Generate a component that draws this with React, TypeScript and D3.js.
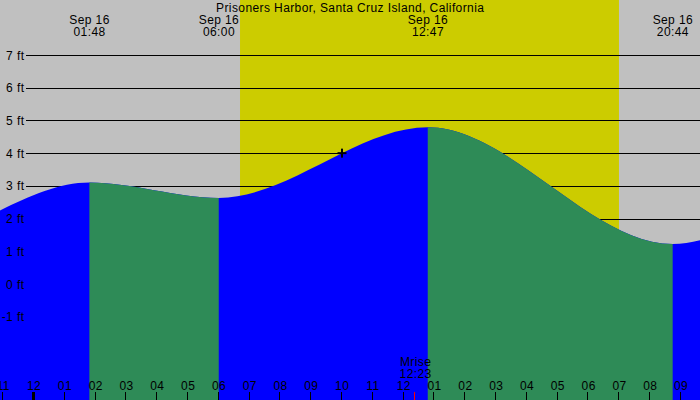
import * as d3 from "d3";

// Tide extremes, hours from Sep 16 00:00 (first and last two are off-screen estimates)
const tideHours = [-10.5, -4.5, 1.8, 6.0, 12.783, 20.733, 27.2, 31.0];
const tideFeet = [4.5, 1.16, 3.1, 2.63, 4.79, 1.22, 3.5, 2.6];
const eventLabels = ["01:48", "06:00", "12:47", "20:44"];
const eventHours = [1.8, 6.0, 12.783, 20.733];

const sunriseHour = 6.69;
const sunsetHour = 18.99;
const moonriseHour = 12.383;
const moonriseLabel = "12:23";
const nowHour = 10.0;
const nowFeet = 4.0;

const feetTicks = [-1, 0, 1, 2, 3, 4, 5, 6, 7];
const hourTickStart = -1;
const hourLabels = ["11", "12", "01", "02", "03", "04", "05", "06", "07", "08", "09", "10",
  "11", "12", "01", "02", "03", "04", "05", "06", "07", "08", "09"];

const title = "Prisoners Harbor, Santa Cruz Island, California";
const dateLabel = "Sep 16";

const W = 700;
const H = 400;
const FONT = "'Liberation Sans', Arial, sans-serif";

const App = () => {
  const x = d3.scaleLinear().domain([0, 21]).range([33.9, 680.9]);
  const y = d3.scaleLinear().domain([0, 7]).range([284, 55]);

  const pts = tideHours.map((h, i) => [h, tideFeet[i]] as [number, number]);
  const area = d3
    .area<[number, number]>()
    .x((d) => x(d[0]))
    .y0(H)
    .y1((d) => y(d[1]))
    .curve(d3.curveMonotoneX);
  const areaPath = area(pts) ?? "";

  // falling tide = from a high to the following low
  const falling: [number, number][] = [];
  for (let i = 0; i < tideHours.length - 1; i++) {
    if (tideFeet[i + 1] < tideFeet[i]) falling.push([tideHours[i], tideHours[i + 1]]);
  }

  const tickX = (h: number) => Math.round(x(h)) - 0.5;

  return (
    <svg width={W} height={H} style={{ display: "block", position: "absolute", left: 0, top: 0 }}
      fontFamily={FONT} fontSize={12} letterSpacing={0.4}>
      <defs>
        <clipPath id="falling">
          {falling.map(([a, b], i) => (
            <rect key={i} x={x(a)} y={0} width={x(b) - x(a)} height={H} />
          ))}
        </clipPath>
      </defs>
      <rect x={0} y={0} width={W} height={H} fill="#c0c0c0" />
      <rect x={x(sunriseHour)} y={0} width={x(sunsetHour) - x(sunriseHour)} height={H} fill="#cccc00" />

      {feetTicks.map((f) => (
        <line key={f} x1={26} x2={W} y1={Math.round(y(f)) + 0.5} y2={Math.round(y(f)) + 0.5}
          stroke="#000" strokeWidth={1} shapeRendering="crispEdges" />
      ))}

      <path d={areaPath} fill="#0000ff" />
      <path d={areaPath} fill="#2e8b57" clipPath="url(#falling)" />

      {feetTicks.map((f) => (
        <text key={f} x={24.4} y={y(f) + 4.5} textAnchor="end" fill="#000">{`${f} ft`}</text>
      ))}

      <text x={350.2} y={12} textAnchor="middle" fill="#000">{title}</text>
      {eventHours.map((h, i) => (
        <g key={i}>
          <text x={x(h) + 0.2} y={24} textAnchor="middle" fill="#000">{dateLabel}</text>
          <text x={x(h) + 0.2} y={36} textAnchor="middle" fill="#000">{eventLabels[i]}</text>
        </g>
      ))}

      <g stroke="#000" strokeWidth={2}>
        <line x1={x(nowHour) - 4.5} x2={x(nowHour) + 4.5} y1={y(nowFeet)} y2={y(nowFeet)} />
        <line x1={x(nowHour)} x2={x(nowHour)} y1={y(nowFeet) - 4.5} y2={y(nowFeet) + 4.5} />
      </g>

      {hourLabels.map((lab, i) => {
        const h = hourTickStart + i;
        const midnight = h % 24 === 0;
        return (
          <g key={i}>
            <line x1={tickX(h)} x2={tickX(h)} y1={392} y2={H} stroke="#000"
              strokeWidth={midnight ? 3 : 1} shapeRendering="crispEdges" />
            <text x={x(h) + 0.2} y={390} textAnchor="middle" fill="#000">{lab}</text>
          </g>
        );
      })}

      <line x1={tickX(moonriseHour)} x2={tickX(moonriseHour)} y1={392} y2={H} stroke="#ff0000"
        strokeWidth={1} shapeRendering="crispEdges" />
      <text x={x(moonriseHour) + 0.2} y={366} textAnchor="middle" fill="#000">Mrise</text>
      <text x={x(moonriseHour) + 0.2} y={378} textAnchor="middle" fill="#000">{moonriseLabel}</text>
    </svg>
  );
};

export default App;
